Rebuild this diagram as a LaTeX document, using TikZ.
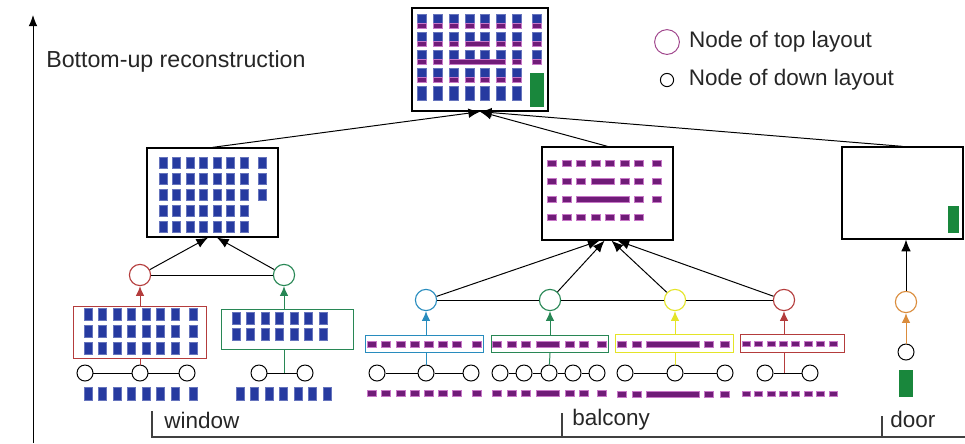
\documentclass[tikz,border=0pt]{standalone}
\usepackage{fontspec}
\setmainfont{Liberation Sans}
\usepackage{tikz}
\usetikzlibrary{positioning,calc,arrows.meta}

\definecolor{winblue}{RGB}{38,58,160}
\definecolor{balpurple}{RGB}{112,28,120}
\definecolor{balpink}{RGB}{200,120,200}
\definecolor{doorgreen}{RGB}{25,135,60}
\definecolor{cred}{RGB}{180,60,60}
\definecolor{cgreen}{RGB}{40,135,85}
\definecolor{cblue}{RGB}{40,140,190}
\definecolor{cyellow}{RGB}{228,228,40}
\definecolor{corange}{RGB}{218,140,60}
\definecolor{cmagenta}{RGB}{160,70,140}

\tikzset{
  frame/.style={draw, line width=0.9pt, inner sep=0pt},
  cframe/.style={draw, line width=0.7pt, inner sep=0pt},
  topnode/.style={circle, draw, minimum size=0.53cm, inner sep=0pt, line width=0.8pt},
  downnode/.style={circle, draw, minimum size=0.4cm, inner sep=0pt, line width=0.7pt},
  arr/.style={-{Latex[length=2.9mm,width=2.4mm]}, line width=0.7pt},
  carr/.style={-{Latex[length=2.4mm,width=2.1mm]}, line width=0.7pt},
  winsq/.style={fill=winblue, draw=winblue!70!white, line width=0.3pt},
  baldash/.style={fill=balpurple, draw=balpink, line width=0.3pt},
  lbl/.style={font=\fontsize{16}{19}\selectfont, inner sep=0pt, text=black!85}
}

% x0, dx, x8, y, n, w, h
\newcommand{\winrow}[7]{%
  \foreach \i in {1,...,#5}{
    \pgfmathsetmacro\xc{\i==8 ? #3 : #1+(\i-1)*#2}
    \filldraw[winsq] (\xc-#6/2,#4-#7/2) rectangle (\xc+#6/2,#4+#7/2);
  }}
% x0, dx, x8, y, w, h, spans
\newcommand{\balrow}[7]{%
  \foreach \a/\b in #7{
    \pgfmathsetmacro\xa{\a==8 ? #3 : #1+(\a-1)*#2}
    \pgfmathsetmacro\xb{\b==8 ? #3 : #1+(\b-1)*#2}
    \filldraw[baldash] (\xa-#5/2,#4-#6/2) rectangle (\xb+#5/2,#4+#6/2);
  }}
\newcommand{\balA}{1/1,2/2,3/3,4/4,5/5,6/6,7/7,8/8}
\newcommand{\balB}{1/1,2/2,3/3,4/5,6/6,7/7,8/8}
\newcommand{\balC}{1/1,2/2,3/6,7/7,8/8}
\newcommand{\balD}{1/1,2/2,3/3,4/4,5/5,6/6,7/7}

\begin{document}
\begin{tikzpicture}[x=0.025cm, y=-0.025cm]
    \useasboundingbox (0,0) rectangle (965,443);

    % axis and title
    \coordinate (axb) at (33,443);
    \coordinate (axt) at (33,15);
    \draw[-{Latex[length=2.8mm,width=2.2mm]}, line width=0.7pt] (axb) -- (axt);
    \node[lbl, font=\fontsize{16.5}{19}\selectfont, anchor=west] (title) at (46,61) {Bottom-up reconstruction};

    % legend
    \node[circle, draw=cmagenta, minimum size=0.62cm, inner sep=0pt, line width=0.7pt] (lgtop) at (667,42) {};
    \node[lbl, right=0.225cm of lgtop] {Node of top layout};
    \node[circle, draw, minimum size=0.33cm, inner sep=0pt, line width=0.7pt] (lgdown) at (667,80) {};
    \node[lbl, right=0.36cm of lgdown] {Node of down layout};

    % boxes
    \node[frame, minimum width=3.4cm, minimum height=2.575cm] (top) at (480,59.5) {};
    \node[frame, minimum width=3.275cm, minimum height=2.225cm] (win) at (212.5,192.5) {};
    \node[frame, minimum width=3.275cm, minimum height=2.325cm] (bal) at (607.5,193.5) {};
    \node[frame, minimum width=3.025cm, minimum height=2.3cm] (door) at (902.5,193) {};

    % top box content
    \foreach \y/\n in {21/8,39/8,57/8,75/7,93/7}
        \winrow{422}{15.8}{537}{\y}{\n}{9}{14};
    \balrow{422}{15.8}{537}{25.5}{9}{5}{\balA}
    \balrow{422}{15.8}{537}{43.5}{9}{5}{\balB}
    \balrow{422}{15.8}{537}{61.5}{9}{5}{\balC}
    \balrow{422}{15.8}{537}{79.5}{9}{5}{\balD}
    \fill[doorgreen] (530,73) rectangle (544,107);

    % window box content
    \foreach \y/\n in {163/8,179/8,195/8,211/7,227/7}
        \winrow{163}{13.5}{262}{\y}{\n}{8}{11};

    % balcony box content
    \balrow{552}{14.5}{657}{163}{9}{6}{\balA}
    \balrow{552}{14.5}{657}{181}{9}{6}{\balB}
    \balrow{552}{14.5}{657}{199}{9}{6}{\balC}
    \balrow{552}{14.5}{657}{217}{9}{6}{\balD}

    % door box content
    \fill[doorgreen] (948,206) rectangle (959,233);

    % nodes of top layout
    \node[topnode, cred] (rw) at (140,275) {};
    \node[topnode, cgreen] (gw) at (284,275) {};
    \node[topnode, cblue] (bb) at (426,300) {};
    \node[topnode, cgreen] (gb) at (550,300) {};
    \node[topnode, cyellow] (yb) at (675,300) {};
    \node[topnode, cred] (rb) at (784,300) {};
    \node[topnode, corange] (od) at (906,302) {};

    % framed sub layouts
    \node[cframe, cred, minimum width=3.3cm, minimum height=1.3cm] (rwbox) at (140,332) {};
    \node[cframe, cgreen, minimum width=3.275cm, minimum height=1cm] (gwbox) at (287.5,329) {};
    \node[cframe, cblue, minimum width=2.925cm, minimum height=0.43cm] (bbbox) at (424.5,344) {};
    \node[cframe, cgreen, minimum width=2.925cm, minimum height=0.43cm] (gbbox) at (549.5,344) {};
    \node[cframe, cyellow, minimum width=2.95cm, minimum height=0.47cm] (ybbox) at (674,343.5) {};
    \node[cframe, cred, minimum width=2.6cm, minimum height=0.47cm] (rbbox) at (792,343.5) {};

    \foreach \y in {314,331,348}
        \winrow{88}{14.5}{193}{\y}{8}{8}{12};
    \foreach \y in {318,334}
        \winrow{236}{14.5}{0}{\y}{7}{8}{12};
    \balrow{372}{14.2}{477}{344}{9}{6}{\balA}
    \balrow{497}{14.5}{602}{344}{9}{6}{\balB}
    \balrow{622}{14.5}{725}{344}{9}{6}{\balC}
    \balrow{746}{12.4}{832.8}{344}{8}{5}{\balA}

    % nodes of down layout
    \node[downnode] (w1) at (85,373) {};
    \node[downnode] (w2) at (140,373) {};
    \node[downnode] (w3) at (187,373) {};
    \node[downnode] (w4) at (259,373) {};
    \node[downnode] (w5) at (305,373) {};
    \node[downnode] (b1) at (377,373) {};
    \node[downnode] (b2) at (426,373) {};
    \node[downnode] (b3) at (471,373) {};
    \node[downnode] (g1) at (500,373) {};
    \node[downnode] (g2) at (524,373) {};
    \node[downnode] (g3) at (549,373) {};
    \node[downnode] (g4) at (573,373) {};
    \node[downnode] (g5) at (597,373) {};
    \node[downnode] (y1) at (625,373) {};
    \node[downnode] (y2) at (675,373) {};
    \node[downnode] (y3) at (725,373) {};
    \node[downnode] (r1) at (765,373) {};
    \node[downnode] (r2) at (810,373) {};
    \node[downnode] (d1) at (906,352) {};

    \draw[line width=0.7pt] (w1) -- (w2) -- (w3);
    \draw[line width=0.7pt] (w4) -- (w5);
    \draw[line width=0.7pt] (b1) -- (b2) -- (b3);
    \draw[line width=0.7pt] (g1) -- (g2) -- (g3) -- (g4) -- (g5);
    \draw[line width=0.7pt] (y1) -- (y2) -- (y3);
    \draw[line width=0.7pt] (r1) -- (r2);

    % bottom layouts
    \winrow{88}{14.5}{193}{394}{8}{8}{13}
    \winrow{240}{14.5}{0}{394}{7}{8}{13}
    \balrow{372}{14.2}{477}{393}{9}{6}{\balA}
    \balrow{497}{14.5}{602}{393}{9}{6}{\balB}
    \balrow{622}{14.5}{725}{394}{9}{6}{\balC}
    \balrow{746}{12.4}{832.8}{394}{8}{5}{\balA}
    \fill[doorgreen] (899,370) rectangle (913,397);

    % down layout to framed layout
    \draw[cred, line width=0.7pt] (rw |- rwbox.south) -- (w2);
    \draw[cgreen, line width=0.7pt] (gw |- gwbox.south) -- (gw |- w4);
    \draw[cblue, line width=0.7pt] (bb |- bbbox.south) -- (b2);
    \draw[cgreen, line width=0.7pt] (gb |- gbbox.south) -- (g3);
    \draw[cyellow, line width=0.7pt] (yb |- ybbox.south) -- (y2);
    \draw[cred, line width=0.7pt] (rb |- rbbox.south) -- (rb |- r1);

    % framed layout to top nodes
    \draw[carr, cred] (rw |- rwbox.north) -- (rw);
    \draw[carr, cgreen] (gw |- gwbox.north) -- (gw);
    \draw[carr, cblue] (bb |- bbbox.north) -- (bb);
    \draw[carr, cgreen] (gb |- gbbox.north) -- (gb);
    \draw[carr, cyellow] (yb |- ybbox.north) -- (yb);
    \draw[carr, cred] (rb |- rbbox.north) -- (rb);
    \draw[carr, corange] (d1) -- (od);

    % top nodes to boxes
    \draw[line width=0.7pt] (rw) -- (gw);
    \draw[line width=0.7pt] (bb) -- (gb) -- (yb) -- (rb);
    \draw[arr] (rw) -- ($(win.south)+(-4.5,0)$);
    \draw[arr] (gw) -- ($(win.south)+(4.5,0)$);
    \draw[arr] (bb) -- ($(bal.south)+(-8,0)$);
    \draw[arr] (gb) -- ($(bal.south)+(-3,0)$);
    \draw[arr] (yb) -- ($(bal.south)+(4,0)$);
    \draw[arr] (rb) -- ($(bal.south)+(10,0)$);
    \draw[arr] (od) -- (od |- door.south);

    % boxes to top box
    \draw[arr] (win.north) -- (top.south);
    \draw[arr] (bal.north) -- (top.south);
    \draw[arr] (door.north) -- (top.south);

    % bracket and labels
    \draw[black!75, line width=0.8pt] (152,411) -- (152,437) -- (965,437);
    \draw[black!75, line width=0.8pt] (562,413) -- (562,437);
    \draw[black!75, line width=0.8pt] (882,416) -- (882,437);
    \node[lbl, anchor=base west] at (164,428) {window};
    \node[lbl, anchor=base west] at (572,425) {balcony};
    \node[lbl, anchor=base west] at (890,427) {door};
\end{tikzpicture}
\end{document}
